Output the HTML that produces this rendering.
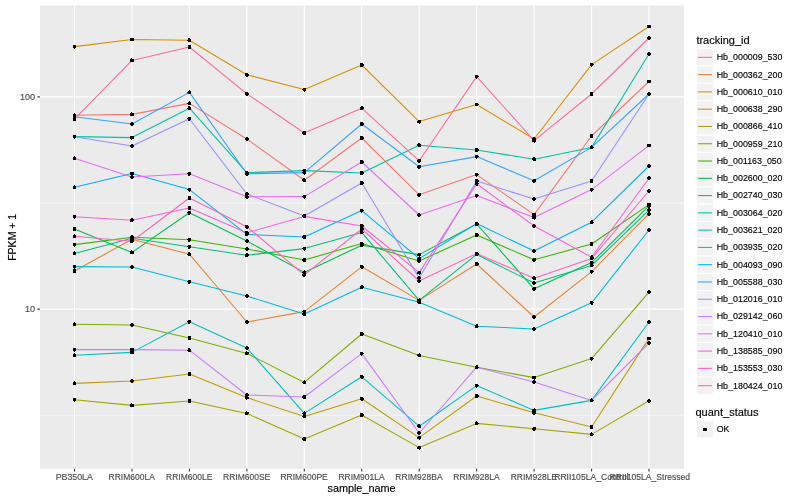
<!DOCTYPE html>
<html lang="en">
<head>
<meta charset="utf-8">
<title>expression plot</title>
<style>
html,body{margin:0;padding:0;background:#fff;}
body{width:800px;height:500px;overflow:hidden;}
svg{display:block;}
text{font-family:"Liberation Sans",Arial,Helvetica,sans-serif;}
.ax{font-size:8.8px;fill:#4D4D4D;stroke:#4D4D4D;stroke-width:0.16px;}
.lt{font-size:11px;fill:#000;stroke:#000;stroke-width:0.15px;}
.ll{font-size:8.8px;fill:#000;stroke:#000;stroke-width:0.13px;}
.ln{fill:none;stroke-width:1.07;stroke-linejoin:round;stroke-linecap:butt;}
</style>
</head>
<body>
<svg width="800" height="500" viewBox="0 0 800 500">
<rect x="0" y="0" width="800" height="500" fill="#FFFFFF"/>
<rect x="40.0" y="5.5" width="644.0" height="463.3" fill="#EBEBEB"/>
<g stroke="#FFFFFF" fill="none">
<line x1="40.0" x2="684.0" y1="203.1" y2="203.1" stroke-width="0.53"/>
<line x1="40.0" x2="684.0" y1="415.3" y2="415.3" stroke-width="0.53"/>
<line x1="40.0" x2="684.0" y1="96.9" y2="96.9" stroke-width="1.07"/>
<line x1="40.0" x2="684.0" y1="309.1" y2="309.1" stroke-width="1.07"/>
<line x1="74.50" x2="74.50" y1="5.5" y2="468.8" stroke-width="1.07"/>
<line x1="131.95" x2="131.95" y1="5.5" y2="468.8" stroke-width="1.07"/>
<line x1="189.40" x2="189.40" y1="5.5" y2="468.8" stroke-width="1.07"/>
<line x1="246.85" x2="246.85" y1="5.5" y2="468.8" stroke-width="1.07"/>
<line x1="304.30" x2="304.30" y1="5.5" y2="468.8" stroke-width="1.07"/>
<line x1="361.75" x2="361.75" y1="5.5" y2="468.8" stroke-width="1.07"/>
<line x1="419.20" x2="419.20" y1="5.5" y2="468.8" stroke-width="1.07"/>
<line x1="476.65" x2="476.65" y1="5.5" y2="468.8" stroke-width="1.07"/>
<line x1="534.10" x2="534.10" y1="5.5" y2="468.8" stroke-width="1.07"/>
<line x1="591.60" x2="591.60" y1="5.5" y2="468.8" stroke-width="1.07"/>
<line x1="648.96" x2="648.96" y1="5.5" y2="468.8" stroke-width="1.07"/>
</g>
<g class="ln">
<polyline points="74.50,115.30 131.95,114.40 189.40,103.40 246.85,139.00 304.30,180.20 361.75,138.00 419.20,194.80 476.65,174.60 534.10,214.60 591.60,136.00 648.96,81.50" stroke="#F8766D"/>
<polyline points="74.50,271.00 131.95,239.20 189.40,254.20 246.85,322.00 304.30,311.60 361.75,266.80 419.20,300.40 476.65,264.00 534.10,317.00 591.60,271.60 648.96,213.90" stroke="#EA8331"/>
<polyline points="74.50,46.60 131.95,39.50 189.40,40.20 246.85,74.80 304.30,89.60 361.75,65.00 419.20,121.60 476.65,104.50 534.10,139.00 591.60,64.60 648.96,26.50" stroke="#D89000"/>
<polyline points="74.50,383.40 131.95,381.00 189.40,374.00 246.85,397.60 304.30,416.40 361.75,398.80 419.20,437.60 476.65,396.00 534.10,412.80 591.60,427.00 648.96,338.40" stroke="#C09B00"/>
<polyline points="74.50,399.80 131.95,405.40 189.40,401.00 246.85,413.40 304.30,439.00 361.75,415.00 419.20,447.60 476.65,423.40 534.10,428.80 591.60,434.40 648.96,400.80" stroke="#A3A500"/>
<polyline points="74.50,324.20 131.95,325.00 189.40,338.00 246.85,353.40 304.30,382.40 361.75,334.00 419.20,355.40 476.65,367.20 534.10,377.60 591.60,358.60 648.96,292.20" stroke="#7CAE00"/>
<polyline points="74.50,244.60 131.95,237.30 189.40,239.80 246.85,249.00 304.30,260.00 361.75,243.60 419.20,261.00 476.65,235.00 534.10,259.80 591.60,244.00 648.96,204.60" stroke="#39B600"/>
<polyline points="74.50,229.00 131.95,252.40 189.40,212.80 246.85,241.00 304.30,272.40 361.75,245.20 419.20,254.60 476.65,224.00 534.10,288.80 591.60,262.60 648.96,205.90" stroke="#00BB4E"/>
<polyline points="74.50,253.40 131.95,238.20 189.40,246.80 246.85,255.20 304.30,248.60 361.75,232.40 419.20,300.40 476.65,254.40 534.10,283.00 591.60,265.50 648.96,210.20" stroke="#00BF7D"/>
<polyline points="74.50,136.60 131.95,137.60 189.40,108.20 246.85,172.60 304.30,170.60 361.75,173.00 419.20,145.30 476.65,150.00 534.10,159.20 591.60,147.40 648.96,54.00" stroke="#00C1A3"/>
<polyline points="74.50,355.20 131.95,352.40 189.40,321.80 246.85,348.00 304.30,413.40 361.75,376.80 419.20,426.20 476.65,385.60 534.10,410.40 591.60,400.40 648.96,322.00" stroke="#00BFC4"/>
<polyline points="74.50,266.60 131.95,267.00 189.40,281.80 246.85,296.00 304.30,314.00 361.75,287.20 419.20,302.30 476.65,326.20 534.10,329.00 591.60,302.80 648.96,230.00" stroke="#00BAE0"/>
<polyline points="74.50,187.20 131.95,173.60 189.40,189.60 246.85,234.40 304.30,237.00 361.75,210.60 419.20,258.60 476.65,223.60 534.10,251.00 591.60,222.20 648.96,166.00" stroke="#00B0F6"/>
<polyline points="74.50,116.80 131.95,124.00 189.40,92.40 246.85,173.80 304.30,172.60 361.75,124.00 419.20,166.80 476.65,156.60 534.10,180.80 591.60,147.40 648.96,94.00" stroke="#35A2FF"/>
<polyline points="74.50,136.80 131.95,146.00 189.40,118.80 246.85,194.00 304.30,216.00 361.75,183.00 419.20,278.00 476.65,181.00 534.10,199.00 591.60,181.00 648.96,94.00" stroke="#9590FF"/>
<polyline points="74.50,349.60 131.95,349.60 189.40,350.20 246.85,395.00 304.30,397.00 361.75,353.60 419.20,433.00 476.65,367.20 534.10,382.00 591.60,400.40 648.96,343.00" stroke="#C77CFF"/>
<polyline points="74.50,158.20 131.95,177.00 189.40,173.80 246.85,196.80 304.30,196.60 361.75,162.00 419.20,215.00 476.65,195.60 534.10,217.60 591.60,189.60 648.96,145.60" stroke="#E76BF3"/>
<polyline points="74.50,216.80 131.95,220.20 189.40,208.00 246.85,232.80 304.30,216.40 361.75,226.00 419.20,272.60 476.65,183.80 534.10,226.00 591.60,257.20 648.96,178.20" stroke="#FA62DB"/>
<polyline points="74.50,236.20 131.95,241.30 189.40,198.00 246.85,226.80 304.30,274.80 361.75,229.00 419.20,281.00 476.65,253.60 534.10,278.20 591.60,258.40 648.96,191.00" stroke="#FF62BC"/>
<polyline points="74.50,119.20 131.95,60.40 189.40,47.00 246.85,93.80 304.30,133.00 361.75,108.20 419.20,160.80 476.65,76.60 534.10,140.60 591.60,94.00 648.96,38.00" stroke="#FF6A98"/>
</g>
<g fill="#000000" shape-rendering="crispEdges">
<path d="M74 113h1v1h-1zM73 114h3v1h-3zM73 115h3v1h-3zM73 116h3v1h-3zM131 112h1v1h-1zM130 113h4v1h-4zM130 114h4v1h-4zM130 115h4v1h-4zM189 101h1v1h-1zM188 102h3v1h-3zM187 103h4v1h-4zM188 104h3v1h-3zM246 137h2v1h-2zM245 138h4v1h-4zM245 139h4v1h-4zM246 140h2v1h-2zM303 178h2v1h-2zM302 179h4v1h-4zM302 180h4v1h-4zM303 181h3v1h-3zM360 136h3v1h-3zM360 137h4v1h-4zM360 138h4v1h-4zM360 139h3v1h-3zM418 193h3v1h-3zM417 194h4v1h-4zM417 195h4v1h-4zM418 196h2v1h-2zM475 173h3v1h-3zM475 174h4v1h-4zM475 175h3v1h-3zM476 176h1v1h-1zM532 213h4v1h-4zM532 214h4v1h-4zM532 215h4v1h-4zM534 216h1v1h-1zM590 134h3v1h-3zM590 135h3v1h-3zM590 136h3v1h-3zM590 137h3v1h-3zM647 80h4v1h-4zM647 81h4v1h-4zM647 82h4v1h-4z"/>
<path d="M73 269h3v1h-3zM73 270h3v1h-3zM73 271h3v1h-3zM73 272h3v1h-3zM131 237h2v1h-2zM130 238h4v1h-4zM130 239h4v1h-4zM130 240h3v1h-3zM188 252h2v1h-2zM188 253h3v1h-3zM187 254h4v1h-4zM188 255h3v1h-3zM246 320h2v1h-2zM245 321h4v1h-4zM245 322h4v1h-4zM246 323h2v1h-2zM303 310h3v1h-3zM302 311h4v1h-4zM303 312h3v1h-3zM304 313h1v1h-1zM360 265h3v1h-3zM360 266h4v1h-4zM360 267h4v1h-4zM361 268h2v1h-2zM419 298h1v1h-1zM417 299h4v1h-4zM417 300h4v1h-4zM418 301h3v1h-3zM475 262h3v1h-3zM475 263h4v1h-4zM475 264h4v1h-4zM475 265h3v1h-3zM533 315h2v1h-2zM532 316h4v1h-4zM532 317h4v1h-4zM533 318h2v1h-2zM590 270h3v1h-3zM590 271h4v1h-4zM590 272h3v1h-3zM591 273h1v1h-1zM648 212h2v1h-2zM647 213h4v1h-4zM647 214h4v1h-4zM648 215h2v1h-2z"/>
<path d="M73 45h3v1h-3zM73 46h3v1h-3zM73 47h3v1h-3zM74 48h1v1h-1zM130 38h4v1h-4zM130 39h4v1h-4zM130 40h4v1h-4zM188 38h2v1h-2zM188 39h3v1h-3zM187 40h4v1h-4zM188 41h3v1h-3zM245 73h3v1h-3zM245 74h4v1h-4zM245 75h4v1h-4zM246 76h2v1h-2zM303 88h3v1h-3zM302 89h4v1h-4zM303 90h3v1h-3zM304 91h1v1h-1zM360 63h3v1h-3zM360 64h4v1h-4zM360 65h4v1h-4zM360 66h3v1h-3zM418 120h3v1h-3zM417 121h4v1h-4zM417 122h4v1h-4zM419 123h1v1h-1zM475 103h3v1h-3zM475 104h4v1h-4zM475 105h3v1h-3zM533 137h2v1h-2zM532 138h4v1h-4zM532 139h4v1h-4zM533 140h2v1h-2zM590 63h3v1h-3zM590 64h4v1h-4zM590 65h3v1h-3zM591 66h1v1h-1zM647 25h4v1h-4zM647 26h4v1h-4zM647 27h4v1h-4z"/>
<path d="M74 381h1v1h-1zM73 382h3v1h-3zM73 383h3v1h-3zM73 384h3v1h-3zM131 379h2v1h-2zM130 380h4v1h-4zM130 381h4v1h-4zM131 382h2v1h-2zM188 372h3v1h-3zM188 373h3v1h-3zM188 374h3v1h-3zM188 375h3v1h-3zM245 396h3v1h-3zM245 397h4v1h-4zM245 398h4v1h-4zM246 399h1v1h-1zM304 414h1v1h-1zM303 415h3v1h-3zM302 416h4v1h-4zM303 417h3v1h-3zM360 397h3v1h-3zM360 398h4v1h-4zM360 399h4v1h-4zM361 400h2v1h-2zM418 436h3v1h-3zM417 437h4v1h-4zM417 438h4v1h-4zM419 439h1v1h-1zM475 394h3v1h-3zM475 395h4v1h-4zM475 396h4v1h-4zM475 397h3v1h-3zM533 411h3v1h-3zM532 412h4v1h-4zM532 413h4v1h-4zM533 414h2v1h-2zM590 425h3v1h-3zM590 426h3v1h-3zM590 427h3v1h-3zM590 428h3v1h-3zM647 337h4v1h-4zM647 338h4v1h-4zM647 339h4v1h-4z"/>
<path d="M73 398h3v1h-3zM73 399h3v1h-3zM73 400h3v1h-3zM74 401h1v1h-1zM131 403h1v1h-1zM130 404h4v1h-4zM130 405h4v1h-4zM130 406h4v1h-4zM188 399h3v1h-3zM188 400h3v1h-3zM188 401h3v1h-3zM188 402h3v1h-3zM246 411h1v1h-1zM245 412h4v1h-4zM245 413h4v1h-4zM245 414h3v1h-3zM303 437h3v1h-3zM302 438h4v1h-4zM302 439h4v1h-4zM303 440h3v1h-3zM360 413h3v1h-3zM360 414h4v1h-4zM360 415h4v1h-4zM360 416h3v1h-3zM418 446h3v1h-3zM417 447h4v1h-4zM417 448h4v1h-4zM419 449h1v1h-1zM476 421h1v1h-1zM475 422h3v1h-3zM475 423h4v1h-4zM475 424h3v1h-3zM533 427h3v1h-3zM532 428h4v1h-4zM532 429h4v1h-4zM533 430h2v1h-2zM591 432h1v1h-1zM590 433h3v1h-3zM590 434h4v1h-4zM590 435h3v1h-3zM648 399h2v1h-2zM647 400h4v1h-4zM647 401h4v1h-4zM648 402h2v1h-2z"/>
<path d="M74 322h1v1h-1zM73 323h3v1h-3zM73 324h3v1h-3zM73 325h3v1h-3zM131 323h2v1h-2zM130 324h4v1h-4zM130 325h4v1h-4zM131 326h2v1h-2zM188 336h3v1h-3zM188 337h3v1h-3zM188 338h3v1h-3zM188 339h3v1h-3zM246 351h1v1h-1zM245 352h4v1h-4zM245 353h4v1h-4zM245 354h3v1h-3zM304 380h1v1h-1zM303 381h3v1h-3zM302 382h4v1h-4zM303 383h3v1h-3zM360 332h3v1h-3zM360 333h4v1h-4zM360 334h4v1h-4zM360 335h3v1h-3zM419 353h1v1h-1zM417 354h4v1h-4zM417 355h4v1h-4zM418 356h3v1h-3zM476 365h2v1h-2zM475 366h3v1h-3zM475 367h4v1h-4zM475 368h3v1h-3zM532 376h4v1h-4zM532 377h4v1h-4zM532 378h4v1h-4zM534 379h1v1h-1zM590 357h3v1h-3zM590 358h4v1h-4zM590 359h3v1h-3zM591 360h1v1h-1zM648 290h2v1h-2zM647 291h4v1h-4zM647 292h4v1h-4zM648 293h2v1h-2z"/>
<path d="M73 243h3v1h-3zM73 244h3v1h-3zM73 245h3v1h-3zM74 246h1v1h-1zM131 235h2v1h-2zM130 236h4v1h-4zM130 237h4v1h-4zM130 238h3v1h-3zM188 238h3v1h-3zM187 239h4v1h-4zM188 240h3v1h-3zM188 241h2v1h-2zM246 247h2v1h-2zM245 248h4v1h-4zM245 249h4v1h-4zM246 250h2v1h-2zM303 258h3v1h-3zM302 259h4v1h-4zM302 260h4v1h-4zM303 261h3v1h-3zM360 242h3v1h-3zM360 243h4v1h-4zM360 244h3v1h-3zM361 245h1v1h-1zM418 259h2v1h-2zM417 260h4v1h-4zM417 261h4v1h-4zM418 262h2v1h-2zM475 233h3v1h-3zM475 234h4v1h-4zM475 235h4v1h-4zM475 236h3v1h-3zM533 258h3v1h-3zM532 259h4v1h-4zM532 260h4v1h-4zM533 261h2v1h-2zM590 242h3v1h-3zM590 243h3v1h-3zM590 244h3v1h-3zM590 245h3v1h-3zM647 203h4v1h-4zM647 204h4v1h-4zM647 205h4v1h-4z"/>
<path d="M73 227h3v1h-3zM73 228h3v1h-3zM73 229h3v1h-3zM73 230h3v1h-3zM131 250h1v1h-1zM130 251h4v1h-4zM130 252h4v1h-4zM130 253h4v1h-4zM188 211h3v1h-3zM187 212h4v1h-4zM188 213h3v1h-3zM188 214h2v1h-2zM246 239h2v1h-2zM245 240h4v1h-4zM245 241h4v1h-4zM246 242h2v1h-2zM304 270h1v1h-1zM303 271h3v1h-3zM302 272h4v1h-4zM303 273h3v1h-3zM361 243h2v1h-2zM360 244h4v1h-4zM360 245h4v1h-4zM360 246h3v1h-3zM418 253h3v1h-3zM417 254h4v1h-4zM417 255h4v1h-4zM419 256h1v1h-1zM475 222h3v1h-3zM475 223h4v1h-4zM475 224h4v1h-4zM475 225h3v1h-3zM533 287h3v1h-3zM532 288h4v1h-4zM532 289h4v1h-4zM533 290h2v1h-2zM590 261h3v1h-3zM590 262h4v1h-4zM590 263h3v1h-3zM591 264h1v1h-1zM648 204h2v1h-2zM647 205h4v1h-4zM647 206h4v1h-4zM648 207h2v1h-2z"/>
<path d="M74 251h1v1h-1zM73 252h3v1h-3zM73 253h3v1h-3zM73 254h3v1h-3zM131 236h2v1h-2zM130 237h4v1h-4zM130 238h4v1h-4zM130 239h3v1h-3zM188 245h3v1h-3zM187 246h4v1h-4zM188 247h3v1h-3zM188 248h2v1h-2zM246 253h2v1h-2zM245 254h4v1h-4zM245 255h4v1h-4zM245 256h3v1h-3zM303 247h3v1h-3zM302 248h4v1h-4zM303 249h3v1h-3zM304 250h1v1h-1zM361 230h1v1h-1zM360 231h3v1h-3zM360 232h4v1h-4zM360 233h3v1h-3zM419 298h1v1h-1zM417 299h4v1h-4zM417 300h4v1h-4zM418 301h3v1h-3zM476 252h1v1h-1zM475 253h3v1h-3zM475 254h4v1h-4zM475 255h3v1h-3zM533 281h2v1h-2zM532 282h4v1h-4zM532 283h4v1h-4zM533 284h2v1h-2zM590 264h3v1h-3zM590 265h4v1h-4zM590 266h3v1h-3zM648 208h2v1h-2zM647 209h4v1h-4zM647 210h4v1h-4zM648 211h2v1h-2z"/>
<path d="M73 135h3v1h-3zM73 136h3v1h-3zM73 137h3v1h-3zM74 138h1v1h-1zM130 136h4v1h-4zM130 137h4v1h-4zM130 138h4v1h-4zM131 139h1v1h-1zM188 106h2v1h-2zM188 107h3v1h-3zM187 108h4v1h-4zM188 109h3v1h-3zM245 171h3v1h-3zM245 172h4v1h-4zM245 173h4v1h-4zM246 174h1v1h-1zM303 169h3v1h-3zM302 170h4v1h-4zM303 171h3v1h-3zM304 172h1v1h-1zM360 171h3v1h-3zM360 172h4v1h-4zM360 173h4v1h-4zM360 174h3v1h-3zM418 143h2v1h-2zM417 144h4v1h-4zM417 145h4v1h-4zM418 146h3v1h-3zM475 148h3v1h-3zM475 149h4v1h-4zM475 150h4v1h-4zM475 151h3v1h-3zM533 157h2v1h-2zM532 158h4v1h-4zM532 159h4v1h-4zM533 160h3v1h-3zM591 145h1v1h-1zM590 146h3v1h-3zM590 147h4v1h-4zM590 148h3v1h-3zM648 52h2v1h-2zM647 53h4v1h-4zM647 54h4v1h-4zM648 55h2v1h-2z"/>
<path d="M74 353h1v1h-1zM73 354h3v1h-3zM73 355h3v1h-3zM73 356h3v1h-3zM131 350h1v1h-1zM130 351h4v1h-4zM130 352h4v1h-4zM130 353h4v1h-4zM188 320h3v1h-3zM187 321h4v1h-4zM188 322h3v1h-3zM188 323h2v1h-2zM246 346h2v1h-2zM245 347h4v1h-4zM245 348h4v1h-4zM246 349h2v1h-2zM304 411h1v1h-1zM303 412h3v1h-3zM302 413h4v1h-4zM303 414h3v1h-3zM360 375h3v1h-3zM360 376h4v1h-4zM360 377h4v1h-4zM361 378h2v1h-2zM418 424h2v1h-2zM417 425h4v1h-4zM417 426h4v1h-4zM418 427h3v1h-3zM475 384h3v1h-3zM475 385h4v1h-4zM475 386h3v1h-3zM476 387h1v1h-1zM534 408h1v1h-1zM532 409h4v1h-4zM532 410h4v1h-4zM532 411h4v1h-4zM591 398h1v1h-1zM590 399h3v1h-3zM590 400h4v1h-4zM590 401h3v1h-3zM648 320h2v1h-2zM647 321h4v1h-4zM647 322h4v1h-4zM648 323h2v1h-2z"/>
<path d="M73 265h3v1h-3zM73 266h3v1h-3zM73 267h3v1h-3zM74 268h1v1h-1zM131 265h2v1h-2zM130 266h4v1h-4zM130 267h4v1h-4zM131 268h2v1h-2zM188 280h3v1h-3zM187 281h4v1h-4zM188 282h3v1h-3zM188 283h2v1h-2zM246 294h2v1h-2zM245 295h4v1h-4zM245 296h4v1h-4zM246 297h2v1h-2zM303 312h3v1h-3zM302 313h4v1h-4zM302 314h4v1h-4zM303 315h3v1h-3zM361 285h2v1h-2zM360 286h4v1h-4zM360 287h4v1h-4zM360 288h3v1h-3zM418 300h2v1h-2zM417 301h4v1h-4zM417 302h4v1h-4zM418 303h3v1h-3zM476 324h2v1h-2zM475 325h3v1h-3zM475 326h4v1h-4zM475 327h3v1h-3zM533 327h2v1h-2zM532 328h4v1h-4zM532 329h4v1h-4zM533 330h2v1h-2zM590 301h3v1h-3zM590 302h4v1h-4zM590 303h3v1h-3zM591 304h2v1h-2zM648 228h2v1h-2zM647 229h4v1h-4zM647 230h4v1h-4zM648 231h2v1h-2z"/>
<path d="M74 185h1v1h-1zM73 186h3v1h-3zM73 187h3v1h-3zM73 188h3v1h-3zM130 172h4v1h-4zM130 173h4v1h-4zM130 174h4v1h-4zM131 175h1v1h-1zM188 188h3v1h-3zM187 189h4v1h-4zM188 190h3v1h-3zM189 191h1v1h-1zM246 232h1v1h-1zM245 233h4v1h-4zM245 234h4v1h-4zM245 235h3v1h-3zM303 235h3v1h-3zM302 236h4v1h-4zM302 237h4v1h-4zM303 238h3v1h-3zM360 209h3v1h-3zM360 210h4v1h-4zM360 211h3v1h-3zM361 212h1v1h-1zM418 257h3v1h-3zM417 258h4v1h-4zM417 259h4v1h-4zM419 260h1v1h-1zM475 222h3v1h-3zM475 223h4v1h-4zM475 224h3v1h-3zM476 225h1v1h-1zM533 249h2v1h-2zM532 250h4v1h-4zM532 251h4v1h-4zM533 252h2v1h-2zM591 220h2v1h-2zM590 221h3v1h-3zM590 222h4v1h-4zM590 223h3v1h-3zM648 164h2v1h-2zM647 165h4v1h-4zM647 166h4v1h-4zM648 167h2v1h-2z"/>
<path d="M73 115h3v1h-3zM73 116h3v1h-3zM73 117h3v1h-3zM74 118h1v1h-1zM131 122h2v1h-2zM130 123h4v1h-4zM130 124h4v1h-4zM131 125h2v1h-2zM189 90h1v1h-1zM188 91h3v1h-3zM187 92h4v1h-4zM188 93h3v1h-3zM245 172h3v1h-3zM245 173h4v1h-4zM245 174h4v1h-4zM246 175h2v1h-2zM303 171h3v1h-3zM302 172h4v1h-4zM303 173h3v1h-3zM304 174h1v1h-1zM360 122h3v1h-3zM360 123h4v1h-4zM360 124h4v1h-4zM360 125h3v1h-3zM418 165h3v1h-3zM417 166h4v1h-4zM417 167h4v1h-4zM418 168h2v1h-2zM475 155h3v1h-3zM475 156h4v1h-4zM475 157h3v1h-3zM476 158h1v1h-1zM533 179h3v1h-3zM532 180h4v1h-4zM532 181h4v1h-4zM533 182h2v1h-2zM591 145h1v1h-1zM590 146h3v1h-3zM590 147h4v1h-4zM590 148h3v1h-3zM648 92h2v1h-2zM647 93h4v1h-4zM647 94h4v1h-4zM648 95h2v1h-2z"/>
<path d="M73 135h3v1h-3zM73 136h3v1h-3zM73 137h3v1h-3zM74 138h1v1h-1zM131 144h2v1h-2zM130 145h4v1h-4zM130 146h4v1h-4zM131 147h2v1h-2zM188 117h3v1h-3zM187 118h4v1h-4zM188 119h3v1h-3zM188 120h2v1h-2zM246 192h2v1h-2zM245 193h4v1h-4zM245 194h4v1h-4zM246 195h2v1h-2zM303 214h3v1h-3zM302 215h4v1h-4zM302 216h4v1h-4zM303 217h3v1h-3zM360 181h3v1h-3zM360 182h4v1h-4zM360 183h4v1h-4zM360 184h3v1h-3zM418 276h2v1h-2zM417 277h4v1h-4zM417 278h4v1h-4zM418 279h2v1h-2zM475 179h3v1h-3zM475 180h4v1h-4zM475 181h4v1h-4zM475 182h3v1h-3zM533 197h2v1h-2zM532 198h4v1h-4zM532 199h4v1h-4zM533 200h2v1h-2zM590 179h3v1h-3zM590 180h3v1h-3zM590 181h3v1h-3zM590 182h3v1h-3zM648 92h2v1h-2zM647 93h4v1h-4zM647 94h4v1h-4zM648 95h2v1h-2z"/>
<path d="M73 348h3v1h-3zM73 349h3v1h-3zM73 350h3v1h-3zM74 351h1v1h-1zM130 348h4v1h-4zM130 349h4v1h-4zM130 350h4v1h-4zM131 351h1v1h-1zM188 348h2v1h-2zM188 349h3v1h-3zM187 350h4v1h-4zM188 351h3v1h-3zM246 393h2v1h-2zM245 394h4v1h-4zM245 395h4v1h-4zM246 396h2v1h-2zM303 395h3v1h-3zM302 396h4v1h-4zM302 397h4v1h-4zM303 398h3v1h-3zM360 352h3v1h-3zM360 353h4v1h-4zM360 354h3v1h-3zM361 355h1v1h-1zM418 431h2v1h-2zM417 432h4v1h-4zM417 433h4v1h-4zM418 434h2v1h-2zM476 365h2v1h-2zM475 366h3v1h-3zM475 367h4v1h-4zM475 368h3v1h-3zM533 380h2v1h-2zM532 381h4v1h-4zM532 382h4v1h-4zM533 383h2v1h-2zM591 398h1v1h-1zM590 399h3v1h-3zM590 400h4v1h-4zM590 401h3v1h-3zM648 341h2v1h-2zM647 342h4v1h-4zM647 343h4v1h-4zM648 344h2v1h-2z"/>
<path d="M74 156h1v1h-1zM73 157h3v1h-3zM73 158h3v1h-3zM73 159h3v1h-3zM131 175h2v1h-2zM130 176h4v1h-4zM130 177h4v1h-4zM131 178h2v1h-2zM188 172h3v1h-3zM187 173h4v1h-4zM188 174h3v1h-3zM188 175h2v1h-2zM245 195h3v1h-3zM245 196h4v1h-4zM245 197h4v1h-4zM246 198h2v1h-2zM303 195h3v1h-3zM302 196h4v1h-4zM303 197h3v1h-3zM304 198h1v1h-1zM360 160h3v1h-3zM360 161h4v1h-4zM360 162h4v1h-4zM360 163h3v1h-3zM418 213h2v1h-2zM417 214h4v1h-4zM417 215h4v1h-4zM418 216h2v1h-2zM475 194h3v1h-3zM475 195h4v1h-4zM475 196h3v1h-3zM476 197h1v1h-1zM532 216h4v1h-4zM532 217h4v1h-4zM532 218h4v1h-4zM534 219h1v1h-1zM590 188h3v1h-3zM590 189h4v1h-4zM590 190h3v1h-3zM591 191h1v1h-1zM647 144h4v1h-4zM647 145h4v1h-4zM647 146h4v1h-4z"/>
<path d="M73 215h3v1h-3zM73 216h3v1h-3zM73 217h3v1h-3zM74 218h1v1h-1zM131 218h2v1h-2zM130 219h4v1h-4zM130 220h4v1h-4zM130 221h3v1h-3zM188 206h3v1h-3zM188 207h3v1h-3zM188 208h3v1h-3zM188 209h3v1h-3zM245 231h3v1h-3zM245 232h4v1h-4zM245 233h4v1h-4zM246 234h2v1h-2zM304 214h1v1h-1zM303 215h3v1h-3zM302 216h4v1h-4zM303 217h3v1h-3zM360 224h3v1h-3zM360 225h4v1h-4zM360 226h4v1h-4zM360 227h3v1h-3zM418 271h3v1h-3zM417 272h4v1h-4zM417 273h4v1h-4zM419 274h1v1h-1zM475 182h3v1h-3zM475 183h4v1h-4zM475 184h3v1h-3zM476 185h2v1h-2zM533 224h2v1h-2zM532 225h4v1h-4zM532 226h4v1h-4zM533 227h2v1h-2zM591 255h2v1h-2zM590 256h3v1h-3zM590 257h4v1h-4zM590 258h3v1h-3zM648 176h2v1h-2zM647 177h4v1h-4zM647 178h4v1h-4zM648 179h2v1h-2z"/>
<path d="M74 234h1v1h-1zM73 235h3v1h-3zM73 236h3v1h-3zM73 237h3v1h-3zM131 239h2v1h-2zM130 240h4v1h-4zM130 241h4v1h-4zM130 242h3v1h-3zM188 196h3v1h-3zM188 197h3v1h-3zM188 198h3v1h-3zM188 199h3v1h-3zM245 225h3v1h-3zM245 226h4v1h-4zM245 227h4v1h-4zM246 228h2v1h-2zM303 273h3v1h-3zM302 274h4v1h-4zM302 275h4v1h-4zM303 276h2v1h-2zM360 227h3v1h-3zM360 228h4v1h-4zM360 229h4v1h-4zM360 230h3v1h-3zM418 279h2v1h-2zM417 280h4v1h-4zM417 281h4v1h-4zM418 282h2v1h-2zM475 252h3v1h-3zM475 253h4v1h-4zM475 254h3v1h-3zM476 255h1v1h-1zM533 276h2v1h-2zM532 277h4v1h-4zM532 278h4v1h-4zM533 279h3v1h-3zM591 256h1v1h-1zM590 257h3v1h-3zM590 258h4v1h-4zM590 259h3v1h-3zM648 189h2v1h-2zM647 190h4v1h-4zM647 191h4v1h-4zM648 192h2v1h-2z"/>
<path d="M74 117h1v1h-1zM73 118h3v1h-3zM73 119h3v1h-3zM73 120h3v1h-3zM131 58h1v1h-1zM130 59h4v1h-4zM130 60h4v1h-4zM130 61h4v1h-4zM188 45h3v1h-3zM188 46h3v1h-3zM188 47h3v1h-3zM188 48h3v1h-3zM245 92h3v1h-3zM245 93h4v1h-4zM245 94h4v1h-4zM246 95h2v1h-2zM303 131h3v1h-3zM302 132h4v1h-4zM302 133h4v1h-4zM303 134h3v1h-3zM361 106h2v1h-2zM360 107h4v1h-4zM360 108h4v1h-4zM360 109h3v1h-3zM418 159h3v1h-3zM417 160h4v1h-4zM417 161h4v1h-4zM418 162h2v1h-2zM475 75h3v1h-3zM475 76h4v1h-4zM475 77h3v1h-3zM476 78h1v1h-1zM532 139h4v1h-4zM532 140h4v1h-4zM532 141h4v1h-4zM534 142h1v1h-1zM590 92h3v1h-3zM590 93h3v1h-3zM590 94h3v1h-3zM590 95h3v1h-3zM648 36h2v1h-2zM647 37h4v1h-4zM647 38h4v1h-4zM648 39h2v1h-2z"/>
</g>
<g stroke="#333333" stroke-width="1.07" fill="none">
<line x1="74.50" x2="74.50" y1="468.8" y2="471.55"/>
<line x1="131.95" x2="131.95" y1="468.8" y2="471.55"/>
<line x1="189.40" x2="189.40" y1="468.8" y2="471.55"/>
<line x1="246.85" x2="246.85" y1="468.8" y2="471.55"/>
<line x1="304.30" x2="304.30" y1="468.8" y2="471.55"/>
<line x1="361.75" x2="361.75" y1="468.8" y2="471.55"/>
<line x1="419.20" x2="419.20" y1="468.8" y2="471.55"/>
<line x1="476.65" x2="476.65" y1="468.8" y2="471.55"/>
<line x1="534.10" x2="534.10" y1="468.8" y2="471.55"/>
<line x1="591.60" x2="591.60" y1="468.8" y2="471.55"/>
<line x1="648.96" x2="648.96" y1="468.8" y2="471.55"/>
<line x1="37.25" x2="40.0" y1="96.9" y2="96.9"/>
<line x1="37.25" x2="40.0" y1="309.1" y2="309.1"/>
</g>
<text class="ax" x="74.30" y="479.6" text-anchor="middle" textLength="37.18" lengthAdjust="spacingAndGlyphs">PB350LA</text>
<text class="ax" x="131.75" y="479.6" text-anchor="middle" textLength="46.35" lengthAdjust="spacingAndGlyphs">RRIM600LA</text>
<text class="ax" x="189.20" y="479.6" text-anchor="middle" textLength="46.35" lengthAdjust="spacingAndGlyphs">RRIM600LE</text>
<text class="ax" x="246.65" y="479.6" text-anchor="middle" textLength="47.29" lengthAdjust="spacingAndGlyphs">RRIM600SE</text>
<text class="ax" x="304.10" y="479.6" text-anchor="middle" textLength="47.29" lengthAdjust="spacingAndGlyphs">RRIM600PE</text>
<text class="ax" x="361.55" y="479.6" text-anchor="middle" textLength="46.35" lengthAdjust="spacingAndGlyphs">RRIM901LA</text>
<text class="ax" x="419.00" y="479.6" text-anchor="middle" textLength="47.29" lengthAdjust="spacingAndGlyphs">RRIM928BA</text>
<text class="ax" x="476.45" y="479.6" text-anchor="middle" textLength="46.35" lengthAdjust="spacingAndGlyphs">RRIM928LA</text>
<text class="ax" x="533.90" y="479.6" text-anchor="middle" textLength="46.35" lengthAdjust="spacingAndGlyphs">RRIM928LE</text>
<text class="ax" x="591.40" y="479.6" text-anchor="middle" textLength="74.40" lengthAdjust="spacingAndGlyphs">RRII105LA_Control</text>
<text class="ax" x="649.86" y="479.6" text-anchor="middle" textLength="80.51" lengthAdjust="spacingAndGlyphs">RRII105LA_Stressed</text>
<text class="ax" x="35.05" y="100.05" text-anchor="end" textLength="15.12" lengthAdjust="spacingAndGlyphs">100</text>
<text class="ax" x="35.05" y="312.25" text-anchor="end" textLength="10.08" lengthAdjust="spacingAndGlyphs">10</text>
<text class="lt" x="361.5" y="491.9" text-anchor="middle" textLength="68.05" lengthAdjust="spacingAndGlyphs">sample_name</text>
<text class="lt" transform="translate(16.2,237.3) rotate(-90)" text-anchor="middle" textLength="47.00" lengthAdjust="spacingAndGlyphs">FPKM + 1</text>
<text class="lt" x="696.4" y="44">tracking_id</text>
<rect x="696.4" y="48.70" width="17.28" height="17.28" fill="#F2F2F2" stroke="#FFFFFF" stroke-width="1.07"/><line x1="698.13" x2="711.95" y1="57.34" y2="57.34" stroke="#F8766D" stroke-width="1.07"/><text class="ll" x="716.7" y="60.24" textLength="65.73" lengthAdjust="spacingAndGlyphs">Hb_000009_530</text>
<rect x="696.4" y="65.98" width="17.28" height="17.28" fill="#F2F2F2" stroke="#FFFFFF" stroke-width="1.07"/><line x1="698.13" x2="711.95" y1="74.62" y2="74.62" stroke="#EA8331" stroke-width="1.07"/><text class="ll" x="716.7" y="77.52" textLength="65.73" lengthAdjust="spacingAndGlyphs">Hb_000362_200</text>
<rect x="696.4" y="83.26" width="17.28" height="17.28" fill="#F2F2F2" stroke="#FFFFFF" stroke-width="1.07"/><line x1="698.13" x2="711.95" y1="91.90" y2="91.90" stroke="#D89000" stroke-width="1.07"/><text class="ll" x="716.7" y="94.80" textLength="65.73" lengthAdjust="spacingAndGlyphs">Hb_000610_010</text>
<rect x="696.4" y="100.54" width="17.28" height="17.28" fill="#F2F2F2" stroke="#FFFFFF" stroke-width="1.07"/><line x1="698.13" x2="711.95" y1="109.18" y2="109.18" stroke="#C09B00" stroke-width="1.07"/><text class="ll" x="716.7" y="112.08" textLength="65.73" lengthAdjust="spacingAndGlyphs">Hb_000638_290</text>
<rect x="696.4" y="117.82" width="17.28" height="17.28" fill="#F2F2F2" stroke="#FFFFFF" stroke-width="1.07"/><line x1="698.13" x2="711.95" y1="126.46" y2="126.46" stroke="#A3A500" stroke-width="1.07"/><text class="ll" x="716.7" y="129.36" textLength="65.73" lengthAdjust="spacingAndGlyphs">Hb_000866_410</text>
<rect x="696.4" y="135.10" width="17.28" height="17.28" fill="#F2F2F2" stroke="#FFFFFF" stroke-width="1.07"/><line x1="698.13" x2="711.95" y1="143.74" y2="143.74" stroke="#7CAE00" stroke-width="1.07"/><text class="ll" x="716.7" y="146.64" textLength="65.73" lengthAdjust="spacingAndGlyphs">Hb_000959_210</text>
<rect x="696.4" y="152.38" width="17.28" height="17.28" fill="#F2F2F2" stroke="#FFFFFF" stroke-width="1.07"/><line x1="698.13" x2="711.95" y1="161.02" y2="161.02" stroke="#39B600" stroke-width="1.07"/><text class="ll" x="716.7" y="163.92" textLength="65.07" lengthAdjust="spacingAndGlyphs">Hb_001163_050</text>
<rect x="696.4" y="169.66" width="17.28" height="17.28" fill="#F2F2F2" stroke="#FFFFFF" stroke-width="1.07"/><line x1="698.13" x2="711.95" y1="178.30" y2="178.30" stroke="#00BB4E" stroke-width="1.07"/><text class="ll" x="716.7" y="181.20" textLength="65.73" lengthAdjust="spacingAndGlyphs">Hb_002600_020</text>
<rect x="696.4" y="186.94" width="17.28" height="17.28" fill="#F2F2F2" stroke="#FFFFFF" stroke-width="1.07"/><line x1="698.13" x2="711.95" y1="195.58" y2="195.58" stroke="#00BF7D" stroke-width="1.07"/><text class="ll" x="716.7" y="198.48" textLength="65.73" lengthAdjust="spacingAndGlyphs">Hb_002740_030</text>
<rect x="696.4" y="204.22" width="17.28" height="17.28" fill="#F2F2F2" stroke="#FFFFFF" stroke-width="1.07"/><line x1="698.13" x2="711.95" y1="212.86" y2="212.86" stroke="#00C1A3" stroke-width="1.07"/><text class="ll" x="716.7" y="215.76" textLength="65.73" lengthAdjust="spacingAndGlyphs">Hb_003064_020</text>
<rect x="696.4" y="221.50" width="17.28" height="17.28" fill="#F2F2F2" stroke="#FFFFFF" stroke-width="1.07"/><line x1="698.13" x2="711.95" y1="230.14" y2="230.14" stroke="#00BFC4" stroke-width="1.07"/><text class="ll" x="716.7" y="233.04" textLength="65.73" lengthAdjust="spacingAndGlyphs">Hb_003621_020</text>
<rect x="696.4" y="238.78" width="17.28" height="17.28" fill="#F2F2F2" stroke="#FFFFFF" stroke-width="1.07"/><line x1="698.13" x2="711.95" y1="247.42" y2="247.42" stroke="#00BAE0" stroke-width="1.07"/><text class="ll" x="716.7" y="250.32" textLength="65.73" lengthAdjust="spacingAndGlyphs">Hb_003935_020</text>
<rect x="696.4" y="256.06" width="17.28" height="17.28" fill="#F2F2F2" stroke="#FFFFFF" stroke-width="1.07"/><line x1="698.13" x2="711.95" y1="264.70" y2="264.70" stroke="#00B0F6" stroke-width="1.07"/><text class="ll" x="716.7" y="267.60" textLength="65.73" lengthAdjust="spacingAndGlyphs">Hb_004093_090</text>
<rect x="696.4" y="273.34" width="17.28" height="17.28" fill="#F2F2F2" stroke="#FFFFFF" stroke-width="1.07"/><line x1="698.13" x2="711.95" y1="281.98" y2="281.98" stroke="#35A2FF" stroke-width="1.07"/><text class="ll" x="716.7" y="284.88" textLength="65.73" lengthAdjust="spacingAndGlyphs">Hb_005588_030</text>
<rect x="696.4" y="290.62" width="17.28" height="17.28" fill="#F2F2F2" stroke="#FFFFFF" stroke-width="1.07"/><line x1="698.13" x2="711.95" y1="299.26" y2="299.26" stroke="#9590FF" stroke-width="1.07"/><text class="ll" x="716.7" y="302.16" textLength="65.73" lengthAdjust="spacingAndGlyphs">Hb_012016_010</text>
<rect x="696.4" y="307.90" width="17.28" height="17.28" fill="#F2F2F2" stroke="#FFFFFF" stroke-width="1.07"/><line x1="698.13" x2="711.95" y1="316.54" y2="316.54" stroke="#C77CFF" stroke-width="1.07"/><text class="ll" x="716.7" y="319.44" textLength="65.73" lengthAdjust="spacingAndGlyphs">Hb_029142_060</text>
<rect x="696.4" y="325.18" width="17.28" height="17.28" fill="#F2F2F2" stroke="#FFFFFF" stroke-width="1.07"/><line x1="698.13" x2="711.95" y1="333.82" y2="333.82" stroke="#E76BF3" stroke-width="1.07"/><text class="ll" x="716.7" y="336.72" textLength="65.73" lengthAdjust="spacingAndGlyphs">Hb_120410_010</text>
<rect x="696.4" y="342.46" width="17.28" height="17.28" fill="#F2F2F2" stroke="#FFFFFF" stroke-width="1.07"/><line x1="698.13" x2="711.95" y1="351.10" y2="351.10" stroke="#FA62DB" stroke-width="1.07"/><text class="ll" x="716.7" y="354.00" textLength="65.73" lengthAdjust="spacingAndGlyphs">Hb_138585_090</text>
<rect x="696.4" y="359.74" width="17.28" height="17.28" fill="#F2F2F2" stroke="#FFFFFF" stroke-width="1.07"/><line x1="698.13" x2="711.95" y1="368.38" y2="368.38" stroke="#FF62BC" stroke-width="1.07"/><text class="ll" x="716.7" y="371.28" textLength="65.73" lengthAdjust="spacingAndGlyphs">Hb_153553_030</text>
<rect x="696.4" y="377.02" width="17.28" height="17.28" fill="#F2F2F2" stroke="#FFFFFF" stroke-width="1.07"/><line x1="698.13" x2="711.95" y1="385.66" y2="385.66" stroke="#FF6A98" stroke-width="1.07"/><text class="ll" x="716.7" y="388.56" textLength="65.73" lengthAdjust="spacingAndGlyphs">Hb_180424_010</text>
<text class="lt" x="695.5" y="416">quant_status</text>
<rect x="696.4" y="420.70" width="17.28" height="17.28" fill="#F2F2F2" stroke="#FFFFFF" stroke-width="1.07"/><path d="M703 428h4v1h-4zM703 429h4v1h-4zM703 430h4v1h-4z" fill="#000" shape-rendering="crispEdges"/><text class="ll" x="716.7" y="432.49">OK</text>
</svg>
</body>
</html>
